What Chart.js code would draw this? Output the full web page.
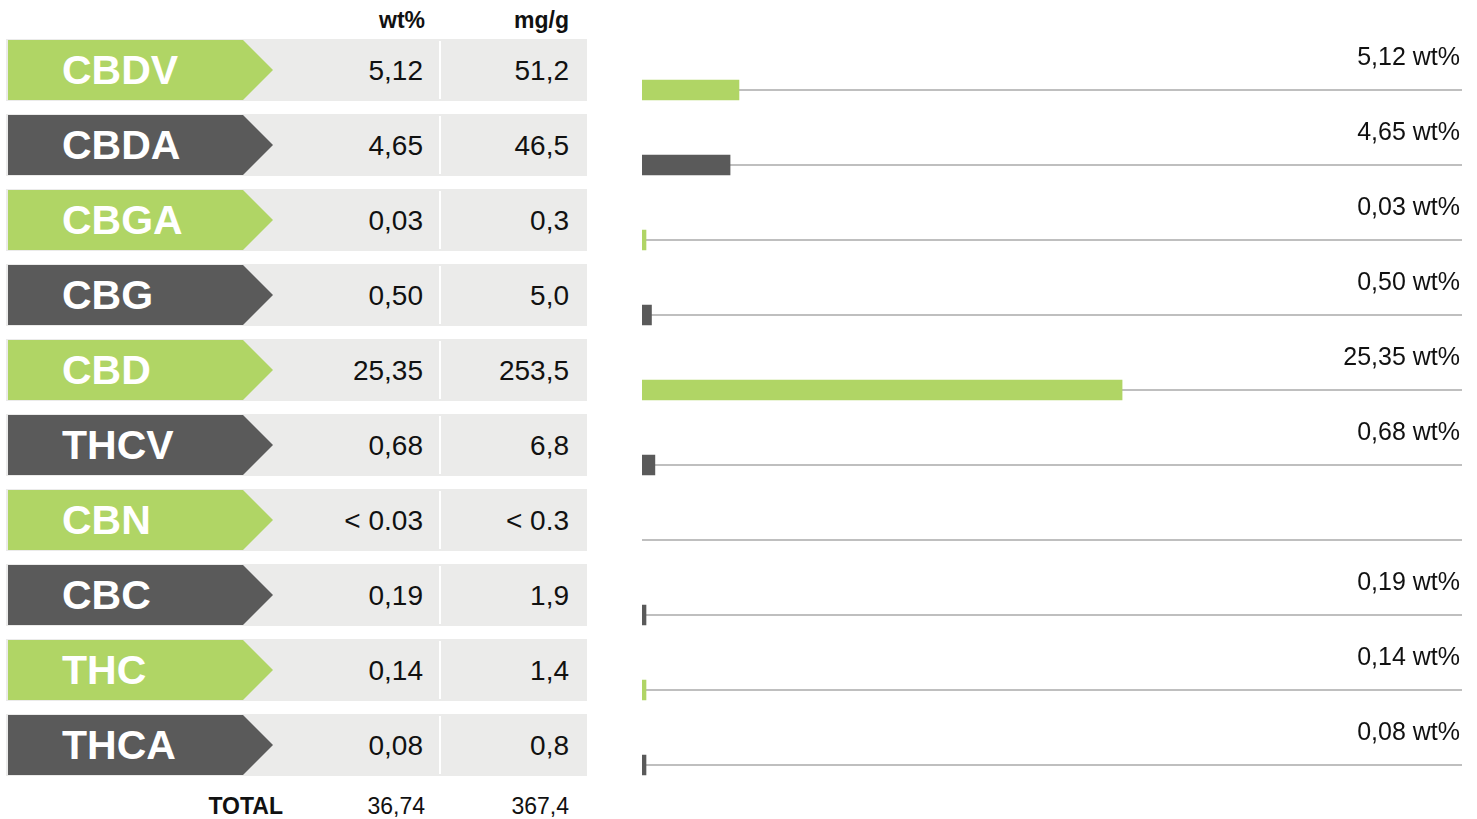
<!DOCTYPE html>
<html>
<head>
<meta charset="utf-8">
<script src="https://cdn.jsdelivr.net/npm/chart.js@4.4.1/dist/chart.umd.min.js"></script>
<style>
	body{ margin:0; background:#ffffff; font-family:"Liberation Sans", Arial, sans-serif; }
	#page{ position:relative; width:1477px; height:819px; overflow:hidden; }
	.cell{ position:absolute; white-space:nowrap; }
	.row-bg{ position:absolute; left:6px; width:581px; height:62px; background:#ebebea; }
	.tag{ position:absolute; left:8px; width:265px; height:60px; clip-path:polygon(0 0, 235px 0, 265px 50%, 235px 100%, 0 100%); }
	.tag-text{ position:absolute; left:54px; top:0; line-height:60px; font-size:41px; font-weight:bold; color:#ffffff; }
	.divider{ position:absolute; left:439px; width:2px; height:58px; background:#ffffff; }
	.num{ position:absolute; font-size:28px; color:#111111; line-height:64px; text-align:right; }
	.head{ position:absolute; font-size:23px; font-weight:bold; color:#111111; text-align:right; line-height:30px; }
	.total{ position:absolute; font-size:23px; color:#111111; text-align:right; line-height:30px; }
	#chartBox{ position:absolute; left:630px; top:0; width:847px; height:819px; }
</style>
</head>
<body>
<div id="page">
	<div id="table"></div>
	<div id="chartBox"><canvas id="stats-bar-cannabinoids"></canvas></div>
</div>
<script>
//DATA
var compounds = ['CBDV', 'CBDA', 'CBGA', 'CBG', 'CBD', 'THCV', 'CBN', 'CBC', 'THC', 'THCA'];
var wtValues = [5.12, 4.65, 0.03, 0.50, 25.35, 0.68, null, 0.19, 0.14, 0.08];
var wtText = ['5,12', '4,65', '0,03', '0,50', '25,35', '0,68', '< 0.03', '0,19', '0,14', '0,08'];
var mgText = ['51,2', '46,5', '0,3', '5,0', '253,5', '6,8', '< 0.3', '1,9', '1,4', '0,8'];
var columnHeads = ['wt%', 'mg/g'];
var totalText = ['TOTAL', '36,74', '367,4'];
var axisMax = 43.3;

var GREEN = '#b0d565';
var DARK = '#5a5a5a';
var rowColors = new Array();
for(i=0;i<compounds.length;i++){
	rowColors[i] = (i % 2 == 0) ? GREEN : DARK;
}

//PRINT TABLE
function addCell(parent, cls, text, left, top, width){
	var d = document.createElement('div');
	d.className = cls;
	d.textContent = text;
	d.style.left = left + 'px';
	d.style.top = top + 'px';
	if(width) d.style.width = width + 'px';
	parent.appendChild(d);
	return d;
}

function printTable(div){
	addCell(div, 'head', columnHeads[0], 325, 5, 100);
	addCell(div, 'head', columnHeads[1], 469, 5, 100);

	for(i=0;i<compounds.length;i++){
		var top = 39 + 75 * i;

		var bg = document.createElement('div');
		bg.className = 'row-bg';
		bg.style.top = top + 'px';
		div.appendChild(bg);

		var tag = document.createElement('div');
		tag.className = 'tag';
		tag.style.top = (top + 1) + 'px';
		tag.style.background = rowColors[i];
		addCell(tag, 'tag-text', compounds[i], 54, 0);
		div.appendChild(tag);

		var sep = document.createElement('div');
		sep.className = 'divider';
		sep.style.top = (top + 2) + 'px';
		div.appendChild(sep);

		addCell(div, 'num', wtText[i], 273, top, 150);
		addCell(div, 'num', mgText[i], 449, top, 120);
	}

	addCell(div, 'head', totalText[0], 143, 791, 140);
	addCell(div, 'total', totalText[1], 325, 791, 100);
	addCell(div, 'total', totalText[2], 469, 791, 100);
}

printTable(document.getElementById('table'));

//VALUE LABELS
var valueLabels = {
	id: 'valueLabels',
	afterDatasetsDraw: function(chart){
		var c = chart.ctx;
		var yScale = chart.scales.y;
		c.save();
		c.font = '25px "Liberation Sans", Arial, sans-serif';
		c.fillStyle = '#111111';
		c.textAlign = 'right';
		c.textBaseline = 'alphabetic';
		for(let i=0;i<wtValues.length;i++){
			if(wtValues[i] === null) continue;
			var y = yScale.getPixelForValue(i);
			c.fillText(wtValues[i].toFixed(2).replace('.', ',') + ' wt%', chart.chartArea.right - 2, y - 25);
		}
		c.restore();
	}
};

//PRINT CHART
var ctx = document.getElementById('stats-bar-cannabinoids');

new Chart(ctx, {
	type: 'bar',
	data: {
		labels: compounds,
		datasets: [{
			label: 'wt%',
			data: wtValues,
			backgroundColor: rowColors,
			borderWidth: 0,
			barThickness: 20,
			minBarLength: 4
		}]
	},
	options: {
		indexAxis: 'y',
		responsive: true,
		maintainAspectRatio: false,
		animation: false,
		layout: {
			padding: { left: 12, right: 15, top: 52.5, bottom: 16.5 }
		},
		scales: {
			x: {
				display: false,
				min: 0,
				max: axisMax
			},
			y: {
				afterFit: function(s){ s.width = 0; },
				ticks: { display: false },
				border: { display: false },
				grid: {
					offset: false,
					drawTicks: false,
					color: '#bfbfbf',
					lineWidth: 2
				}
			}
		},
		plugins: {
			legend: { display: false },
			tooltip: { enabled: false }
		}
	},
	plugins: [valueLabels]
});
</script>
</body>
</html>
